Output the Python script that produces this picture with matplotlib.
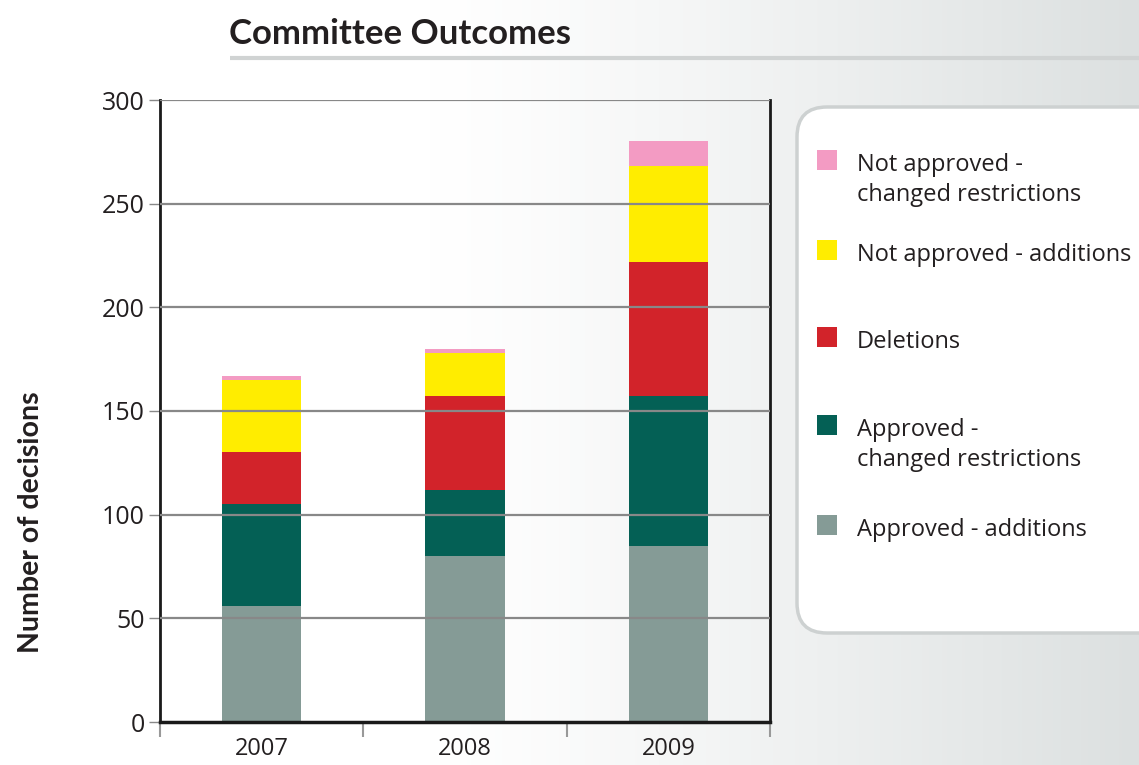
"""
Committee Outcomes - stacked bar chart
"""
import numpy as np
import matplotlib
matplotlib.use("Agg")
import matplotlib.pyplot as plt
from matplotlib.patches import FancyBboxPatch, Rectangle

# Data
years = ["2007", "2008", "2009"]
series_names = [
    "Approved - additions",
    "Approved -\nchanged restrictions",
    "Deletions",
    "Not approved - additions",
    "Not approved -\nchanged restrictions",
]
approved_additions = [56, 80, 85]
approved_changed = [49, 32, 72]
deletions = [25, 45, 65]
not_approved_additions = [35, 21, 46]
not_approved_changed = [2, 2, 12]
y_ticks = [0, 50, 100, 150, 200, 250, 300]

COLORS = ["#859b96", "#046055", "#d2232a", "#ffed00", "#f39bc3"]
TEXT = "#231f20"
FONT = "Open Sans"
BOLD = "Lato"

W, H = 1139, 765
fig = plt.figure(figsize=(W / 100, H / 100), dpi=100)

# background gradient (white on the left, light grey on the right)
bg = fig.add_axes([0, 0, 1, 1], zorder=-10)
xs = np.linspace(0, 1, W)
t = np.clip((xs * W - 430) / (W - 430), 0, 1) ** 1.2
row = np.outer(1 - t, [1, 1, 1]) + np.outer(t, [220 / 255, 224 / 255, 224 / 255])
img = np.repeat(row[None, :, :], 20, axis=0)
bg.imshow(img, aspect="auto", extent=[0, 1, 0, 1])
bg.axis("off")

# main plot
ax = fig.add_axes([160 / W, 1 - 722 / H, 610 / W, 622 / H])
ax.patch.set_alpha(0)
x = np.arange(len(years))
stack = [approved_additions, approved_changed, deletions,
         not_approved_additions, not_approved_changed]
bottom = np.zeros(len(years))
for vals, c in zip(stack, COLORS):
    ax.bar(x, vals, width=0.39, bottom=bottom, color=c, zorder=2, linewidth=0)
    bottom += np.array(vals)

ax.set_xlim(-0.5, 2.5)
ax.set_ylim(0, 300)
ax.set_yticks(y_ticks)
ax.set_yticklabels([str(v) for v in y_ticks], fontsize=18, family=FONT, color=TEXT)
for v in y_ticks[1:]:
    ax.axhline(v, color="#888888", lw=1.6, zorder=3)
ax.tick_params(axis="y", length=8, width=1, color="#888888", pad=3)

ax.set_xticks([-0.5, 0.5, 1.5, 2.5])
ax.set_xticklabels([])
ax.set_xticks(x, minor=True)
ax.set_xticklabels(years, minor=True, fontsize=17, family=FONT, color=TEXT)
ax.tick_params(axis="x", which="major", length=11, width=1.5, color="#999999")
ax.tick_params(axis="x", which="minor", length=0, pad=11)

for side in ["left", "right", "bottom"]:
    ax.spines[side].set_color("#1a1a1a")
    ax.spines[side].set_linewidth(2)
ax.spines["bottom"].set_linewidth(2.5)
ax.spines["top"].set_visible(False)

# overlay in pixel coords for title, label and legend
ov = fig.add_axes([0, 0, 1, 1], zorder=5)
ov.set_xlim(0, W)
ov.set_ylim(H, 0)
ov.axis("off")

ov.text(229, 44, "Committee Outcomes", fontsize=25, fontweight="bold",
        family=BOLD, color=TEXT, va="baseline")
ov.plot([230, W], [58, 58], color="#d0d3d3", lw=3, solid_capstyle="butt")

ov.text(31, 522, "Number of decisions", fontsize=20.5, fontweight="bold",
        family=BOLD, color=TEXT, rotation=90, ha="center", va="center")

box = FancyBboxPatch((797, 107), 400, 526,
                     boxstyle="round,pad=0,rounding_size=30",
                     facecolor="white", edgecolor="#cdd1d1", lw=2.5)
ov.add_patch(box)

# legend entries, top to bottom (square top y)
entry_y = [150, 240, 327, 415, 515]
for name, c, yy in zip(series_names[::-1], COLORS[::-1], entry_y):
    ov.add_patch(Rectangle((817, yy), 20, 20, facecolor=c,
                           edgecolor="none"))
    for i, line in enumerate(name.split("\n")):
        ov.text(857, yy + 21 + i * 30, line, fontsize=17, family=FONT,
                color=TEXT, va="baseline")

fig.savefig("out.png", dpi=100)
